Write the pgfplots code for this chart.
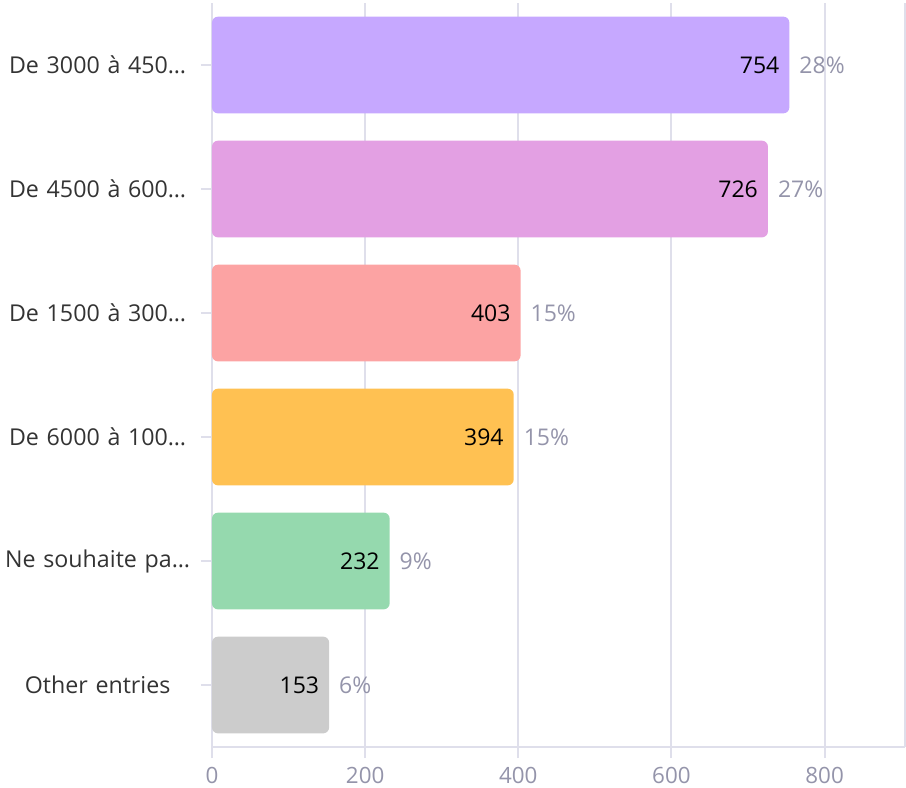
\documentclass[border=0pt]{standalone}
\usepackage{pgfplots}
\pgfplotsset{compat=1.18}
\usepackage{fontspec}
\setmainfont{Open Sans}
\definecolor{cA}{HTML}{C6A8FF}
\definecolor{cB}{HTML}{E3A0E3}
\definecolor{cC}{HTML}{FCA3A3}
\definecolor{cD}{HTML}{FFC152}
\definecolor{cE}{HTML}{95D9AE}
\definecolor{cF}{HTML}{CCCCCC}
\definecolor{gridc}{HTML}{DFDFEB}
\definecolor{tickc}{HTML}{9494AA}
\definecolor{labc}{HTML}{333333}
\begin{document}
\begin{tikzpicture}[x=1pt,y=1pt]
\begin{axis}[
  at={(106pt,20.5pt)}, anchor=south west,
  width=346.5pt, height=372pt, scale only axis,
  xmin=0, xmax=905, ymin=-0.5, ymax=5.5, y dir=reverse,
  xbar, bar width=0.78, bar shift=0pt,
  axis x line*=bottom, axis y line*=left,
  axis line style={gridc, line width=1pt},
  xtick={0,200,400,600,800},
  extra x ticks={905}, extra x tick labels={},
  extra x tick style={major tick length=0pt, grid=major},
  xmajorgrids, grid style={gridc, line width=1pt},
  ytick={0,...,5},
  yticklabels={De 3000 à 450…,De 4500 à 600…,De 1500 à 300…,De 6000 à 100…,Ne souhaite pa…,Other entries},
  tick align=outside, major tick length=5.5pt,
  tick style={gridc, line width=1pt},
  /pgf/number format/assume math mode=true,
  xticklabel style={font=\fontsize{11.2}{13}\selectfont, text=tickc, yshift=-1pt},
  yticklabel style={font=\fontsize{11.6}{14}\selectfont, text=labc, text width=100pt, inner xsep=0pt, align=center, xshift=-1.5pt},
  nodes near coords,
  every node near coord/.append style={anchor=east, xshift=-1.5pt, font=\fontsize{11.5}{14}\selectfont, text=black},
  clip=false,
]
\addplot[fill=cA, draw=none, rounded corners=3pt] coordinates {(754,0)};
\addplot[fill=cB, draw=none, rounded corners=3pt] coordinates {(726,1)};
\addplot[fill=cC, draw=none, rounded corners=3pt] coordinates {(403,2)};
\addplot[fill=cD, draw=none, rounded corners=3pt] coordinates {(394,3)};
\addplot[fill=cE, draw=none, rounded corners=3pt] coordinates {(232,4)};
\addplot[fill=cF, draw=none, rounded corners=3pt] coordinates {(153,5)};
\addplot[draw=none, mark=none, xbar=false,
  point meta=explicit symbolic,
  nodes near coords={\pgfplotspointmeta},
  every node near coord/.style={anchor=west, xshift=1.5pt, font=\fontsize{11.5}{14}\selectfont, text=tickc}]
  table[meta=p] {
x y p
754 0 28\%
726 1 27\%
403 2 15\%
394 3 15\%
232 4 9\%
153 5 6\%
};
\end{axis}
\pgfresetboundingbox
\path (0,0) rectangle (453,394);
\end{tikzpicture}
\end{document}
